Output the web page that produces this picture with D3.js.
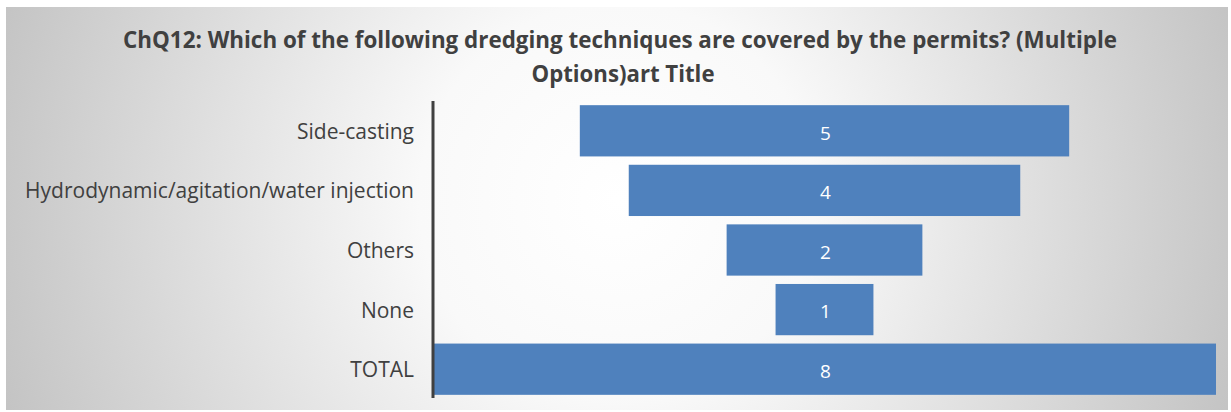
<!DOCTYPE html>
<html><head><meta charset="utf-8">
<script src="https://cdn.jsdelivr.net/npm/d3@7"></script>
<style>html,body{margin:0;padding:0;background:#fff;}svg{display:block;}</style>
</head><body>
<svg id="c" width="1231" height="412"></svg>
<script>
const titleLines = ["ChQ12: Which of the following dredging techniques are covered by the permits? (Multiple", "Options)art Title"];
const categories = ["Side-casting", "Hydrodynamic/agitation/water injection", "Others", "None", "TOTAL"];
const values = [5, 4, 2, 1, 8];

const svg = d3.select("#c");
const font = "'Open Sans', 'Liberation Sans', sans-serif";

const defs = svg.append("defs");
const grad = defs.append("radialGradient").attr("id","bg")
  .attr("gradientUnits","userSpaceOnUse").attr("cx",617).attr("cy",200).attr("r",660);
grad.append("stop").attr("offset","0").attr("stop-color","#ffffff");
grad.append("stop").attr("offset","0.3").attr("stop-color","#f9f9f9");
grad.append("stop").attr("offset","1").attr("stop-color","#c2c2c2");

svg.append("rect").attr("x",6).attr("y",7).attr("width",1222).attr("height",403).attr("fill","url(#bg)");

// title
svg.append("text").attr("x",620).attr("y",48).attr("text-anchor","middle")
  .attr("font-family",font).attr("font-weight","bold").attr("font-size",23).attr("fill","#404040")
  .attr("textLength",994).attr("lengthAdjust","spacingAndGlyphs").text(titleLines[0]);
svg.append("text").attr("x",623).attr("y",82).attr("text-anchor","middle")
  .attr("font-family",font).attr("font-weight","bold").attr("font-size",23).attr("fill","#404040")
  .attr("textLength",183).attr("lengthAdjust","spacingAndGlyphs").text(titleLines[1]);

const axisX = 433;
const plotW = 783;
const cx = axisX + plotW/2;

const y = d3.scaleBand().domain(categories).range([101, 399]).paddingInner(0.14).paddingOuter(0.07);
const x = d3.scaleLinear().domain([0, d3.max(values)]).range([0, plotW]);

const data = categories.map((c,i)=>({c, v: values[i]}));

svg.append("g").selectAll("rect").data(data).join("rect")
  .attr("x", d => cx - x(d.v)/2)
  .attr("y", d => y(d.c))
  .attr("width", d => x(d.v))
  .attr("height", y.bandwidth())
  .attr("fill", "#4f81bd");

svg.append("g").selectAll("text").data(data).join("text")
  .attr("x", cx + 1)
  .attr("y", d => y(d.c) + y.bandwidth()/2 + 2)
  .attr("dy","0.36em")
  .attr("text-anchor","middle")
  .attr("font-family",font).attr("font-size",19).attr("fill","#ffffff")
  .text(d => d.v);

// category axis
const yAxis = d3.axisLeft(y).tickSize(0).tickPadding(19);
const ga = svg.append("g").attr("transform",`translate(${axisX},0)`).call(yAxis);
ga.select(".domain").attr("stroke","#404040").attr("stroke-width",3).attr("d","M0,101V398");
ga.selectAll("text").attr("font-family",font).attr("font-size",21).attr("fill","#404040").attr("dy","0.38em");
</script>
</body></html>
